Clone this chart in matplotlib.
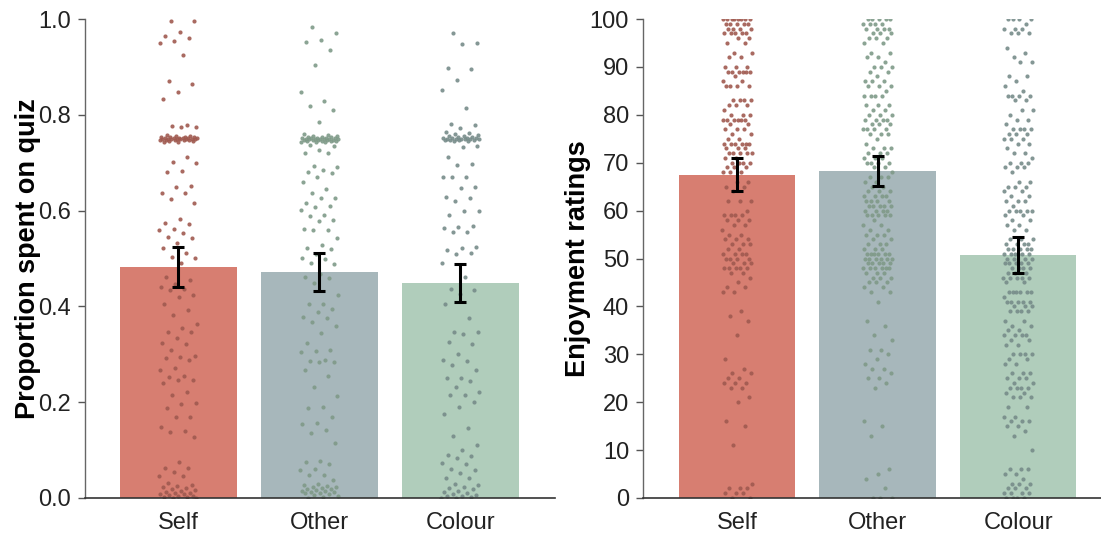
import numpy as np
import matplotlib
matplotlib.use("Agg")
import matplotlib.pyplot as plt

plt.rcParams['font.family'] = ['Liberation Sans', 'DejaVu Sans']

conditions = ['Self', 'Other', 'Colour']

# bar heights and error bar limits
prop_means = [0.482, 0.472, 0.449]
prop_lo = [0.441, 0.432, 0.409]
prop_hi = [0.524, 0.511, 0.489]

enjoy_means = [67.4, 68.3, 50.7]
enjoy_lo = [64.1, 65.1, 47.0]
enjoy_hi = [71.0, 71.5, 54.5]

# individual proportions
prop_self = [0.995, 0.995, 0.973, 0.965, 0.96, 0.955, 0.95, 0.925, 0.87, 0.865, 0.848, 0.832,
             0.778, 0.776, 0.775, 0.774, 0.757, 0.756, 0.755, 0.754, 0.754, 0.753, 0.753, 0.752,
             0.752, 0.752, 0.751, 0.751, 0.751, 0.750, 0.750, 0.750, 0.750, 0.750, 0.749, 0.749,
             0.749, 0.748, 0.748, 0.748, 0.747, 0.747, 0.746, 0.745, 0.744, 0.743,
             0.712, 0.702, 0.70, 0.683, 0.68, 0.652, 0.65, 0.636, 0.636, 0.625, 0.615, 0.583,
             0.574, 0.573, 0.561, 0.559, 0.553, 0.545, 0.542, 0.532, 0.522, 0.511, 0.503, 0.501,
             0.49, 0.462, 0.455, 0.446, 0.44, 0.437, 0.435, 0.423, 0.42, 0.406, 0.393, 0.382,
             0.364, 0.354, 0.347, 0.346, 0.333, 0.323, 0.322, 0.308, 0.296, 0.295, 0.293, 0.288,
             0.271, 0.268, 0.255, 0.253, 0.247, 0.246, 0.24, 0.222, 0.215, 0.198, 0.197, 0.187,
             0.17, 0.169, 0.149, 0.14, 0.138, 0.128, 0.076, 0.063, 0.062, 0.055, 0.046, 0.045,
             0.031, 0.028, 0.025, 0.022, 0.02, 0.018, 0.016, 0.014, 0.012, 0.011, 0.01, 0.009,
             0.008, 0.006, 0.005, 0.004, 0.003, 0.002, 0.001, 0.0]
prop_other = [0.984, 0.970, 0.957, 0.953, 0.935, 0.904, 0.848, 0.828, 0.818, 0.81, 0.786,
              0.76, 0.758, 0.756, 0.755, 0.754, 0.753, 0.753, 0.752, 0.752, 0.751, 0.751, 0.751,
              0.750, 0.750, 0.750, 0.750, 0.749, 0.749, 0.749, 0.748, 0.748, 0.748, 0.747, 0.747,
              0.746, 0.746, 0.745, 0.745, 0.744, 0.744, 0.743,
              0.737, 0.735, 0.727, 0.721, 0.72, 0.694, 0.692, 0.685, 0.68, 0.678, 0.67, 0.66,
              0.646, 0.636, 0.627, 0.626, 0.615, 0.61, 0.608, 0.601, 0.59, 0.588, 0.58, 0.578,
              0.562, 0.56, 0.559, 0.542, 0.528, 0.522, 0.52, 0.51, 0.502, 0.5, 0.49, 0.489,
              0.468, 0.462, 0.46, 0.448, 0.423, 0.406, 0.405, 0.395, 0.388, 0.378, 0.376, 0.367,
              0.36, 0.344, 0.323, 0.309, 0.306, 0.305, 0.288, 0.286, 0.284, 0.283, 0.268, 0.254,
              0.232, 0.212, 0.191, 0.188, 0.17, 0.156, 0.155, 0.142, 0.135, 0.114, 0.077, 0.076,
              0.07, 0.06, 0.058, 0.049, 0.047, 0.037, 0.03, 0.028, 0.026, 0.024, 0.022, 0.02,
              0.019, 0.018, 0.016, 0.015, 0.014, 0.013, 0.012, 0.011, 0.01, 0.008, 0.006, 0.004,
              0.002, 0.0]
prop_colour = [0.97, 0.949, 0.948, 0.897, 0.895, 0.873, 0.852, 0.814, 0.78, 0.779, 0.773,
               0.765, 0.762, 0.76, 0.758, 0.756, 0.755, 0.754, 0.753, 0.752, 0.752, 0.751,
               0.751, 0.750, 0.750, 0.750, 0.749, 0.749, 0.749, 0.748, 0.748, 0.748, 0.747,
               0.746, 0.745,
               0.735, 0.733, 0.712, 0.698, 0.695, 0.671, 0.67, 0.67, 0.65, 0.648, 0.628, 0.627,
               0.62, 0.6, 0.6, 0.591, 0.567, 0.566, 0.563, 0.556, 0.555, 0.523, 0.522, 0.517,
               0.511, 0.51, 0.49, 0.462, 0.436, 0.434, 0.425, 0.404, 0.375, 0.347, 0.346, 0.343,
               0.326, 0.322, 0.301, 0.288, 0.287, 0.278, 0.268, 0.251, 0.25, 0.244, 0.232, 0.222,
               0.216, 0.215, 0.2, 0.19, 0.176, 0.146, 0.13, 0.11, 0.1, 0.09, 0.088, 0.083, 0.073,
               0.072, 0.06, 0.059, 0.052, 0.042, 0.041, 0.03, 0.027, 0.024, 0.021, 0.018, 0.015,
               0.013, 0.011, 0.009, 0.007, 0.005, 0.004, 0.003, 0.001, 0.0]

# enjoyment ratings, stored as rating -> number of participants
enjoy_self_vals = [100, 99, 98, 97, 96, 95, 93, 92, 90, 89, 88, 87, 86, 83, 82, 81, 80, 79, 78,
                   77, 76, 75, 74, 73, 72, 71, 70, 69, 68, 66, 65, 64, 62, 60, 59, 58, 57, 56,
                   55, 54, 53, 52, 51, 50, 49, 48, 47, 46, 45, 44, 43, 39, 38, 37, 34, 29, 27,
                   26, 25, 24, 23, 21, 20, 16, 15, 11, 3, 2, 1, 0]
enjoy_self_counts = [8, 5, 4, 5, 2, 2, 2, 2, 3, 6, 1, 2, 4, 4, 3, 1, 3, 6, 2,
                     3, 2, 2, 6, 3, 5, 2, 4, 3, 3, 2, 2, 1, 3, 1, 4, 3, 2, 1,
                     2, 3, 3, 2, 4, 4, 3, 5, 2, 1, 1, 2, 2, 1, 1, 1, 1, 1, 1,
                     2, 2, 3, 2, 1, 1, 1, 1, 1, 1, 3, 3, 2]
enjoy_other_vals = [100, 99, 98, 97, 96, 95, 93, 92, 91, 90, 89, 88, 87, 86, 85, 84, 82, 81, 80,
                    79, 78, 77, 76, 75, 74, 73, 72, 71, 70, 69, 68, 67, 66, 65, 64, 63, 62, 61,
                    60, 59, 58, 57, 56, 55, 54, 53, 52, 51, 50, 49, 48, 47, 46, 45, 44, 43, 41,
                    37, 36, 34, 33, 31, 30, 29, 28, 27, 26, 25, 24, 23, 16, 15, 13, 6, 5, 4, 2, 0]
enjoy_other_counts = [5, 4, 4, 3, 3, 2, 2, 2, 1, 3, 2, 1, 3, 3, 1, 4, 3, 2, 3,
                      4, 3, 4, 3, 1, 1, 3, 3, 3, 4, 2, 1, 3, 2, 2, 3, 4, 4, 5,
                      4, 5, 1, 2, 2, 3, 2, 3, 3, 6, 6, 5, 6, 3, 3, 3, 2, 2, 1,
                      1, 1, 1, 1, 2, 1, 1, 1, 2, 1, 2, 1, 1, 1, 1, 1, 1, 1, 1, 1, 3]
enjoy_colour_vals = [100, 99, 98, 97, 94, 93, 92, 91, 88, 87, 86, 85, 84, 83, 81, 80, 79, 78,
                     77, 76, 75, 74, 73, 72, 71, 70, 69, 68, 66, 65, 64, 63, 62, 61, 60, 59, 58,
                     57, 56, 54, 53, 52, 51, 50, 49, 48, 47, 46, 45, 43, 42, 41, 40, 39, 37, 36,
                     35, 34, 33, 32, 30, 29, 28, 26, 25, 24, 23, 22, 21, 19, 17, 16, 15, 14, 13,
                     10, 6, 5, 4, 3, 2, 1, 0]
enjoy_colour_counts = [4, 1, 3, 3, 1, 1, 1, 2, 2, 1, 1, 1, 4, 2, 2, 1, 2, 1,
                       4, 3, 3, 2, 1, 2, 1, 3, 3, 1, 2, 3, 2, 2, 3, 1, 5, 2, 2,
                       2, 2, 3, 4, 5, 6, 4, 5, 4, 3, 5, 2, 6, 1, 5, 3, 4, 2, 2,
                       2, 4, 2, 2, 4, 2, 2, 3, 3, 2, 4, 2, 3, 2, 2, 3, 2, 1, 1,
                       1, 3, 2, 1, 3, 3, 4, 4]

bar_colors = ['#d77e71', '#a7b7bb', '#b0cdbb']
dot_colors = ['#a05a50', '#7f9a88', '#778c8a']


def jitter(n, width):
    # evenly scattered horizontal offsets (golden ratio sequence)
    return ((np.arange(n) * 0.6180339887 + 0.31) % 1 - 0.5) * width


def draw_panel(ax, means, lo, hi, groups, ylabel, ylim, yticks, yfmt, spread, labelpad):
    x = np.arange(len(conditions))
    ax.bar(x, means, width=0.83, color=bar_colors, zorder=1)
    for i, vals in enumerate(groups):
        vals = np.asarray(vals, dtype=float)
        ax.scatter(i + jitter(len(vals), spread), vals, s=9, color=dot_colors[i],
                   alpha=0.9, linewidths=0, zorder=2)
    err = [np.array(means) - np.array(lo), np.array(hi) - np.array(means)]
    ax.errorbar(x, means, yerr=err, fmt='none', ecolor='black', elinewidth=2.2,
                capsize=4.5, capthick=2.2, zorder=3)
    ax.set_xticks(x)
    ax.set_xticklabels(conditions)
    ax.set_ylim(*ylim)
    ax.set_yticks(yticks)
    ax.set_yticklabels([yfmt.format(t) for t in yticks])
    ax.set_ylabel(ylabel, fontsize=19.5, fontweight='bold', labelpad=labelpad)
    ax.tick_params(axis='both', labelsize=17, colors='#222222')
    ax.tick_params(axis='x', length=0, pad=10)
    ax.tick_params(axis='y', length=5, width=1, color='#555555', pad=5)
    for side in ['top', 'right']:
        ax.spines[side].set_visible(False)
    ax.spines['left'].set_color('#666666')
    ax.spines['bottom'].set_color('#333333')
    ax.spines['left'].set_linewidth(1.0)
    ax.spines['bottom'].set_linewidth(1.2)


fig = plt.figure(figsize=(11.01, 5.33), dpi=100)
ax1 = fig.add_axes([85 / 1101, 35 / 533, 470 / 1101, 479 / 533])
ax2 = fig.add_axes([643 / 1101, 35 / 533, 458 / 1101, 479 / 533])

draw_panel(ax1, prop_means, prop_lo, prop_hi, [prop_self, prop_other, prop_colour],
           'Proportion spent on quiz', (0, 1.0), np.arange(0, 1.01, 0.2), '{:.1f}',
           0.27, -2)
ax1.set_xlim(-0.66, 2.67)

enjoy_groups = [np.repeat(enjoy_self_vals, enjoy_self_counts),
                np.repeat(enjoy_other_vals, enjoy_other_counts),
                np.repeat(enjoy_colour_vals, enjoy_colour_counts)]
draw_panel(ax2, enjoy_means, enjoy_lo, enjoy_hi, enjoy_groups,
           'Enjoyment ratings', (0, 100), np.arange(0, 101, 10), '{:.0f}',
           0.21, -1)
ax2.set_xlim(-0.67, 2.59)

fig.savefig('out.png', dpi=100)
